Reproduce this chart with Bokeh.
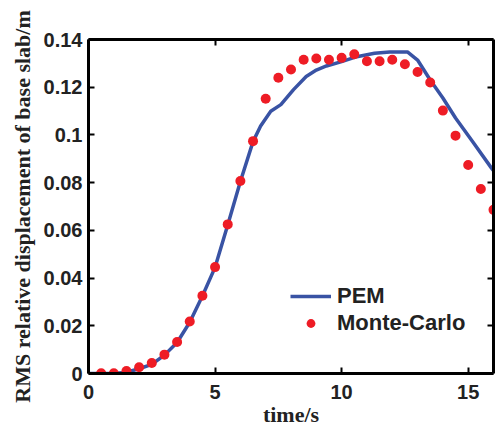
from bokeh.plotting import figure
from bokeh.models import LinearAxis, FixedTicker, CustomJSTickFormatter, Legend, LegendItem, Range1d
from bokeh.embed import file_html
from bokeh.resources import INLINE

# PEM curve
pem_t = [0, 1.0, 1.5, 2.0, 2.5, 3.0, 3.5, 4.0, 4.5, 5.0, 5.5, 6.0, 6.5, 6.8, 7.2, 7.6, 8.1, 8.6,
         9.0, 9.4, 10.0, 10.6, 11.3, 11.9, 12.6, 13.0, 13.5, 14.0, 14.5, 15.2, 15.9, 16.0]
pem_y = [0, 0, 0.0005, 0.002, 0.0038, 0.0077, 0.013, 0.0215, 0.0325, 0.0445, 0.0622, 0.0805,
         0.0972, 0.1037, 0.1099, 0.1127, 0.119, 0.1245, 0.1272, 0.1289, 0.1307, 0.1328, 0.1342,
         0.1348, 0.1348, 0.1314, 0.123, 0.1155, 0.1071, 0.0968, 0.0864, 0.085]

# Monte-Carlo points
mc_t = [0.5, 1.0, 1.5, 2.0, 2.5, 3.0, 3.5, 4.0, 4.5, 5.0, 5.5, 6.0, 6.5, 7.0, 7.5, 8.0, 8.5, 9.0,
        9.5, 10.0, 10.5, 11.0, 11.5, 12.0, 12.5, 13.0, 13.5, 14.0, 14.5, 15.0, 15.5, 16.0]
mc_y = [0.0001, 0.0001, 0.001, 0.0026, 0.0044, 0.0079, 0.0132, 0.0218, 0.0326, 0.0446, 0.0625,
        0.0807, 0.0974, 0.1152, 0.124, 0.1274, 0.1315, 0.132, 0.1315, 0.1323, 0.1338, 0.1309,
        0.1309, 0.1315, 0.1296, 0.1264, 0.122, 0.1102, 0.0997, 0.0874, 0.0773, 0.0686]

x_ticks = [0, 5, 10, 15]
y_ticks = [0, 0.02, 0.04, 0.06, 0.08, 0.1, 0.12, 0.14]

p = figure(width=496, height=429, x_range=Range1d(0, 16), y_range=Range1d(0, 0.14),
           output_backend="svg", toolbar_location=None,
           min_border_left=88, min_border_right=3, min_border_top=39, min_border_bottom=53)
p.outline_line_color = None
p.xgrid.visible = False
p.ygrid.visible = False
p.background_fill_color = "white"

fmt = CustomJSTickFormatter(code="return String(Number(tick.toFixed(2)));")
blank = CustomJSTickFormatter(code="return '';")

def style(ax, ticks, labels=True):
    ax.ticker = FixedTicker(ticks=ticks)
    ax.axis_line_width = 3
    ax.axis_line_color = "black"
    ax.major_tick_in = 6
    ax.major_tick_out = 0
    ax.major_tick_line_width = 2
    ax.minor_tick_line_color = None
    if labels:
        ax.formatter = fmt
        ax.major_label_text_font = "Liberation Sans"
        ax.major_label_text_font_style = "bold"
        ax.major_label_text_font_size = "20px"
        ax.major_label_text_color = "#222222"
        ax.major_label_standoff = 6
        ax.axis_label_text_font = "Liberation Serif"
        ax.axis_label_text_font_style = "bold"
        ax.axis_label_text_font_size = "22px"
        ax.axis_label_text_color = "#222222"
    else:
        ax.formatter = blank
        ax.major_label_standoff = 0

style(p.xaxis[0], x_ticks)
style(p.yaxis[0], y_ticks)
p.xaxis[0].axis_label = "time/s"
p.xaxis[0].major_label_standoff = 11
p.xaxis[0].axis_label_standoff = 0
p.yaxis[0].axis_label = "RMS relative displacement of base slab/m"
p.yaxis[0].axis_label_standoff = 6

top = LinearAxis()
style(top, x_ticks, labels=False)
p.add_layout(top, "above")
right = LinearAxis()
style(right, y_ticks, labels=False)
p.add_layout(right, "right")

ln = p.line(pem_t, pem_y, line_color="#3953a4", line_width=3.5)
sc = p.scatter(mc_t, mc_y, size=10, fill_color="#ee1c25", line_color=None)

legend = Legend(items=[LegendItem(label="PEM", renderers=[ln]),
                       LegendItem(label="Monte-Carlo", renderers=[sc])],
                location=(202, 37), padding=0, margin=0, border_line_color=None,
                background_fill_alpha=0, glyph_width=41, glyph_height=22, label_height=22,
                label_standoff=6, spacing=1,
                label_text_font="Liberation Sans", label_text_font_style="bold",
                label_text_font_size="22px", label_text_color="#222222")
p.add_layout(legend, "center")

open("out.html", "w").write(file_html(p, INLINE))
